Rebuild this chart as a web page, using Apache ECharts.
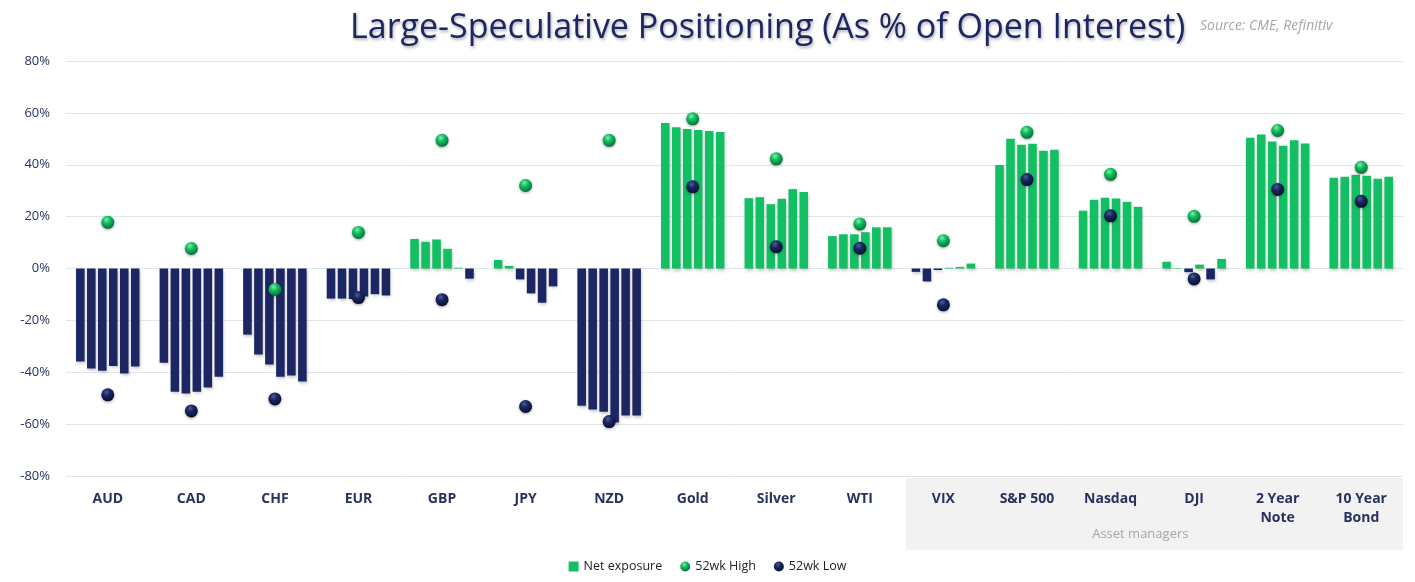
<!DOCTYPE html>
<html>
<head>
<meta charset="utf-8">
<script src="https://cdn.jsdelivr.net/npm/echarts@6/dist/echarts.min.js"></script>
<style>
html,body{margin:0;padding:0;background:#fff;}
#chart{width:1415px;height:582px;}
</style>
</head>
<body>
<div id="chart"></div>
<script>
var categories = ['AUD','CAD','CHF','EUR','GBP','JPY','NZD','Gold','Silver','WTI','VIX','S&P 500','Nasdaq','DJI','2 Year\nNote','10 Year\nBond'];
var assetManagerCategories = ['VIX','S&P 500','Nasdaq','DJI','2 Year\nNote','10 Year\nBond'];
var yTicks = [-80,-60,-40,-20,0,20,40,60,80];

// six weekly net-exposure readings per market (% of open interest)
var week1 = [-35.9,-36.3,-25.5,-11.6,11.4, 3.3,-52.9,56.1,27.1,12.5,-1.3,39.9,22.3, 2.6,50.4,35.0];
var week2 = [-38.6,-47.5,-33.2,-11.6,10.3, 1.0,-54.4,54.5,27.5,13.2,-5.0,50.0,26.5, 0.2,51.7,35.4];
var week3 = [-39.4,-48.2,-37.0,-11.8,11.2,-4.2,-55.2,53.8,24.8,13.2,-0.6,47.7,27.3,-1.4,49.0,36.1];
var week4 = [-37.6,-47.5,-41.7,-10.8, 7.6,-9.6,-59.4,53.4,26.9,14.0, 0.3,48.1,27.0, 1.5,47.3,35.8];
var week5 = [-40.5,-45.9,-41.3, -9.9, 0.3,-13.2,-56.7,53.0,30.6,15.9, 0.6,45.4,25.7,-4.2,49.4,34.6];
var week6 = [-37.8,-41.7,-43.6,-10.4,-3.9,-6.9,-56.7,52.6,29.5,15.9, 1.9,45.8,23.8, 3.7,48.2,35.4];
var high52 = [17.8, 7.7, -8.1, 13.9, 49.4, 32.0, 49.4, 57.7, 42.3, 17.2, 10.7, 52.5, 36.3, 20.1, 53.2, 39.0];
var low52  = [-48.7,-54.9,-50.3,-11.2,-12.0,-53.2,-59.0,31.5, 8.4, 7.8,-14.0,34.3,20.3,-4.0,30.5,25.9];

var GREEN = '#13bf63';
var NAVY = '#1b2663';
var weeks = [week1, week2, week3, week4, week5, week6];

var greenBall = new echarts.graphic.RadialGradient(0.4, 0.3, 0.7, [
  {offset: 0, color: '#7df0ab'},
  {offset: 0.4, color: '#12bf5f'},
  {offset: 1, color: '#06703a'}
]);
var navyBall = new echarts.graphic.RadialGradient(0.4, 0.3, 0.7, [
  {offset: 0, color: '#4a5ca0'},
  {offset: 0.4, color: '#1a2760'},
  {offset: 1, color: '#081030'}
]);

var series = weeks.map(function (w) {
  return {
    name: 'Net exposure',
    type: 'bar',
    data: w,
    barGap: '28%',
    barCategoryGap: '24%',
    itemStyle: {
      color: function (p) { return p.value >= 0 ? GREEN : NAVY; },
      shadowColor: 'rgba(0,0,0,0.22)',
      shadowBlur: 3,
      shadowOffsetX: 1,
      shadowOffsetY: 2
    },
    z: 2
  };
});
series.push({
  name: '52wk High',
  type: 'scatter',
  data: high52,
  symbol: 'circle',
  symbolSize: 13,
  itemStyle: {color: greenBall, opacity: 1, shadowColor: 'rgba(0,0,0,0.35)', shadowBlur: 3, shadowOffsetY: 1},
  z: 5
});
series.push({
  name: '52wk Low',
  type: 'scatter',
  data: low52,
  symbol: 'circle',
  symbolSize: 13,
  itemStyle: {color: navyBall, opacity: 1, shadowColor: 'rgba(0,0,0,0.35)', shadowBlur: 3, shadowOffsetY: 1},
  z: 5
});

var chart = echarts.init(document.getElementById('chart'));
var option = {
  backgroundColor: '#ffffff',
  animation: false,
  title: [{
    text: 'Large-Speculative Positioning (As % of Open Interest)',
    left: 345,
    top: 6,
    textStyle: {
      fontFamily: 'Open Sans',
      fontWeight: 'normal',
      fontSize: 34,
      color: '#1b2663',
      textShadowColor: 'rgba(0,0,0,0.3)',
      textShadowBlur: 3,
      textShadowOffsetX: 1,
      textShadowOffsetY: 2
    }
  }, {
    text: 'Source: CME, Refinitiv',
    left: 1195,
    top: 14,
    textStyle: {
      fontFamily: 'Open Sans',
      fontStyle: 'italic',
      fontWeight: 'normal',
      fontSize: 14,
      color: '#a6a6a6'
    }
  }],
  legend: {
    bottom: 4,
    left: 'center',
    itemWidth: 10,
    itemHeight: 10,
    itemGap: 18,
    textStyle: {fontFamily: 'Open Sans', fontSize: 12.5, color: '#222'},
    data: [
      {name: 'Net exposure', icon: 'rect', itemStyle: {color: GREEN, shadowBlur: 0}},
      {name: '52wk High', icon: 'circle', itemStyle: {color: greenBall}},
      {name: '52wk Low', icon: 'circle', itemStyle: {color: navyBall}}
    ]
  },
  grid: {left: 66, right: 12, top: 61, bottom: 106},
  xAxis: {
    type: 'category',
    data: categories,
    axisLine: {show: false},
    axisTick: {show: false},
    axisLabel: {
      interval: 0,
      margin: 14,
      fontFamily: 'Open Sans',
      fontWeight: 'bold',
      fontSize: 14,
      lineHeight: 19,
      color: '#27325f',
      verticalAlign: 'top'
    }
  },
  yAxis: {
    type: 'value',
    min: yTicks[0],
    max: yTicks[yTicks.length - 1],
    interval: 20,
    axisLine: {show: false},
    axisTick: {show: false},
    axisLabel: {
      formatter: '{value}%',
      margin: 16,
      fontFamily: 'Open Sans',
      fontSize: 13,
      color: '#27325f'
    },
    splitLine: {lineStyle: {color: '#dfe8e8', width: 1}}
  },
  series: series
};
chart.setOption(option);

function drawBand() {
  var first = chart.convertToPixel({xAxisIndex: 0}, assetManagerCategories[0]);
  var last = chart.convertToPixel({xAxisIndex: 0}, assetManagerCategories[assetManagerCategories.length - 1]);
  var half = (last - first) / (assetManagerCategories.length - 1) / 2;
  var zeroY = chart.convertToPixel({yAxisIndex: 0}, yTicks[0]);
  var x0 = first - half + 4;
  var x1 = last + half;
  chart.setOption({
    graphic: [{
      type: 'rect',
      z: -10,
      silent: true,
      shape: {x: x0, y: zeroY + 2, width: x1 - x0, height: 72},
      style: {fill: '#f2f2f2'}
    }, {
      type: 'text',
      z: -5,
      silent: true,
      x: (x0 + x1) / 2 - 14,
      y: zeroY + 58,
      style: {
        text: 'Asset managers',
        fill: '#a6a6a6',
        font: '13px "Open Sans"',
        align: 'center',
        verticalAlign: 'middle'
      }
    }]
  });
}
drawBand();
</script>
</body>
</html>
